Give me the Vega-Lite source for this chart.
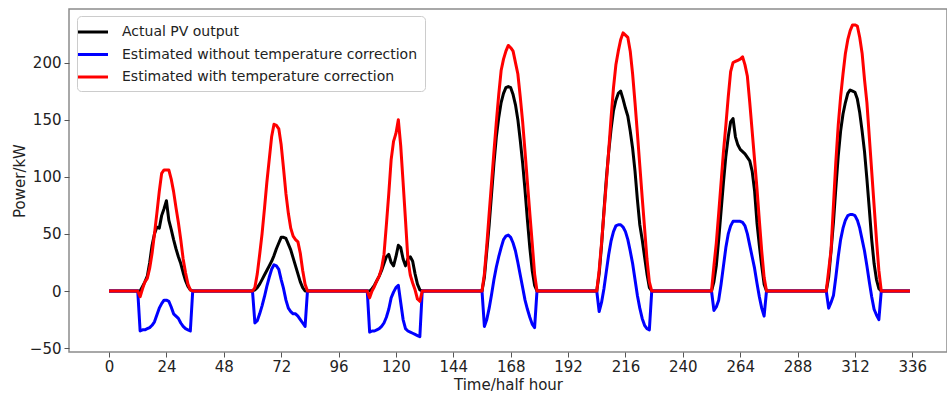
{
  "$schema": "https://vega.github.io/schema/vega-lite/v6.json",
  "width": 878,
  "height": 343,
  "autosize": {"type": "none"},
  "padding": {"left": 69, "top": 9, "right": 0, "bottom": 42},
  "background": "white",
  "config": {
    "view": {"stroke": "#8c8c8c", "strokeWidth": 1.5},
    "font": "DejaVu Sans",
    "axis": {
      "domain": false,
      "grid": false,
      "tickColor": "#555",
      "tickSize": 5,
      "tickWidth": 1,
      "labelFontSize": 15,
      "labelColor": "#222",
      "labelFont": "DejaVu Sans",
      "titleFont": "DejaVu Sans",
      "titleFontSize": 15,
      "titleFontWeight": "normal",
      "titleColor": "#222"
    }
  },
  "data": {
    "values": [
      {"t": 0, "a": 0, "b": 0, "r": 0},
      {"t": 12, "a": 0, "b": 0, "r": 0},
      {"t": 13, "a": 0, "b": -35, "r": -5},
      {"t": 14, "a": 4, "b": -34, "r": 2},
      {"t": 15, "a": 8, "b": -34, "r": 8},
      {"t": 16, "a": 13, "b": -33, "r": 11},
      {"t": 17, "a": 25, "b": -32, "r": 20},
      {"t": 18, "a": 40, "b": -30, "r": 33},
      {"t": 19, "a": 50, "b": -27, "r": 50},
      {"t": 20, "a": 56, "b": -21, "r": 68},
      {"t": 21, "a": 55, "b": -15, "r": 87},
      {"t": 22, "a": 66, "b": -11, "r": 103},
      {"t": 23, "a": 72, "b": -8, "r": 106},
      {"t": 24, "a": 79, "b": -8, "r": 106},
      {"t": 25, "a": 62, "b": -9, "r": 106},
      {"t": 26, "a": 54, "b": -14, "r": 98},
      {"t": 27, "a": 45, "b": -20, "r": 87},
      {"t": 28, "a": 37, "b": -22, "r": 73},
      {"t": 29, "a": 30, "b": -24, "r": 60},
      {"t": 30, "a": 24, "b": -28, "r": 45},
      {"t": 31, "a": 16, "b": -31, "r": 28},
      {"t": 32, "a": 9, "b": -33, "r": 16},
      {"t": 33, "a": 4, "b": -34, "r": 6},
      {"t": 34, "a": 1, "b": -35, "r": 1},
      {"t": 35, "a": 0, "b": 0, "r": 0},
      {"t": 60, "a": 0, "b": 0, "r": 0},
      {"t": 61, "a": 1, "b": -28, "r": 3},
      {"t": 62, "a": 3, "b": -26, "r": 15},
      {"t": 63, "a": 6, "b": -20, "r": 32},
      {"t": 64, "a": 10, "b": -13, "r": 50},
      {"t": 65, "a": 14, "b": -5, "r": 72},
      {"t": 66, "a": 18, "b": 4, "r": 95},
      {"t": 67, "a": 22, "b": 12, "r": 115},
      {"t": 68, "a": 26, "b": 19, "r": 135},
      {"t": 69, "a": 31, "b": 23, "r": 146},
      {"t": 70, "a": 37, "b": 22, "r": 145},
      {"t": 71, "a": 42, "b": 19, "r": 142},
      {"t": 72, "a": 47, "b": 10, "r": 128},
      {"t": 73, "a": 47, "b": 2, "r": 107},
      {"t": 74, "a": 46, "b": -8, "r": 85},
      {"t": 75, "a": 41, "b": -15, "r": 68},
      {"t": 76, "a": 36, "b": -18, "r": 55},
      {"t": 77, "a": 29, "b": -20, "r": 48},
      {"t": 78, "a": 22, "b": -20, "r": 45},
      {"t": 79, "a": 15, "b": -22, "r": 43},
      {"t": 80, "a": 8, "b": -25, "r": 33},
      {"t": 81, "a": 3, "b": -28, "r": 18},
      {"t": 82, "a": 0, "b": -31, "r": 6},
      {"t": 83, "a": 0, "b": 0, "r": 0},
      {"t": 108, "a": 0, "b": 0, "r": 0},
      {"t": 109, "a": 0, "b": -36, "r": -6},
      {"t": 110, "a": 2, "b": -35, "r": 0},
      {"t": 111, "a": 5, "b": -35, "r": 4},
      {"t": 112, "a": 9, "b": -34, "r": 9},
      {"t": 113, "a": 13, "b": -33, "r": 13},
      {"t": 114, "a": 18, "b": -31, "r": 20},
      {"t": 115, "a": 24, "b": -28, "r": 32},
      {"t": 116, "a": 30, "b": -23, "r": 58},
      {"t": 117, "a": 32, "b": -16, "r": 85},
      {"t": 118, "a": 25, "b": -6, "r": 115},
      {"t": 119, "a": 22, "b": -1, "r": 131},
      {"t": 120, "a": 30, "b": 3, "r": 138},
      {"t": 121, "a": 40, "b": 5, "r": 150},
      {"t": 122, "a": 38, "b": -10, "r": 127},
      {"t": 123, "a": 28, "b": -25, "r": 95},
      {"t": 124, "a": 22, "b": -33, "r": 62},
      {"t": 125, "a": 28, "b": -35, "r": 28},
      {"t": 126, "a": 30, "b": -36, "r": 14},
      {"t": 127, "a": 26, "b": -37, "r": 7},
      {"t": 128, "a": 15, "b": -38, "r": 1},
      {"t": 129, "a": 6, "b": -39, "r": -7},
      {"t": 130, "a": 1, "b": -40, "r": -9},
      {"t": 131, "a": 0, "b": 0, "r": 0},
      {"t": 156, "a": 0, "b": 0, "r": 0},
      {"t": 157, "a": 12, "b": -31, "r": 15},
      {"t": 158, "a": 35, "b": -25, "r": 40},
      {"t": 159, "a": 58, "b": -15, "r": 68},
      {"t": 160, "a": 85, "b": -3, "r": 95},
      {"t": 161, "a": 112, "b": 10, "r": 122},
      {"t": 162, "a": 135, "b": 21, "r": 148},
      {"t": 163, "a": 152, "b": 30, "r": 172},
      {"t": 164, "a": 165, "b": 38, "r": 193},
      {"t": 165, "a": 173, "b": 45, "r": 203},
      {"t": 166, "a": 178, "b": 48, "r": 210},
      {"t": 167, "a": 179, "b": 49, "r": 215},
      {"t": 168, "a": 178, "b": 47, "r": 213},
      {"t": 169, "a": 172, "b": 42, "r": 210},
      {"t": 170, "a": 163, "b": 35, "r": 200},
      {"t": 171, "a": 150, "b": 25, "r": 190},
      {"t": 172, "a": 132, "b": 14, "r": 170},
      {"t": 173, "a": 112, "b": 3, "r": 148},
      {"t": 174, "a": 88, "b": -8, "r": 122},
      {"t": 175, "a": 62, "b": -16, "r": 95},
      {"t": 176, "a": 38, "b": -23, "r": 68},
      {"t": 177, "a": 18, "b": -29, "r": 42},
      {"t": 178, "a": 5, "b": -32, "r": 15},
      {"t": 179, "a": 0, "b": 0, "r": 0},
      {"t": 204, "a": 0, "b": 0, "r": 0},
      {"t": 205, "a": 15, "b": -18, "r": 18},
      {"t": 206, "a": 40, "b": -10, "r": 42},
      {"t": 207, "a": 70, "b": 2, "r": 68},
      {"t": 208, "a": 98, "b": 17, "r": 95},
      {"t": 209, "a": 122, "b": 32, "r": 123},
      {"t": 210, "a": 142, "b": 44, "r": 152},
      {"t": 211, "a": 158, "b": 52, "r": 178},
      {"t": 212, "a": 167, "b": 57, "r": 198},
      {"t": 213, "a": 173, "b": 58, "r": 210},
      {"t": 214, "a": 175, "b": 58, "r": 220},
      {"t": 215, "a": 168, "b": 56, "r": 226},
      {"t": 216, "a": 160, "b": 52, "r": 224},
      {"t": 217, "a": 153, "b": 45, "r": 222},
      {"t": 218, "a": 140, "b": 35, "r": 210},
      {"t": 219, "a": 125, "b": 24, "r": 190},
      {"t": 220, "a": 105, "b": 10, "r": 165},
      {"t": 221, "a": 80, "b": -4, "r": 138},
      {"t": 222, "a": 58, "b": -15, "r": 110},
      {"t": 223, "a": 45, "b": -24, "r": 82},
      {"t": 224, "a": 30, "b": -30, "r": 55},
      {"t": 225, "a": 15, "b": -33, "r": 28},
      {"t": 226, "a": 3, "b": -34, "r": 8},
      {"t": 227, "a": 0, "b": 0, "r": 0},
      {"t": 252, "a": 0, "b": 0, "r": 0},
      {"t": 253, "a": 8, "b": -17, "r": 22},
      {"t": 254, "a": 22, "b": -14, "r": 42},
      {"t": 255, "a": 45, "b": -8, "r": 68},
      {"t": 256, "a": 70, "b": 6, "r": 95},
      {"t": 257, "a": 95, "b": 22, "r": 122},
      {"t": 258, "a": 118, "b": 38, "r": 145},
      {"t": 259, "a": 135, "b": 50, "r": 170},
      {"t": 260, "a": 148, "b": 57, "r": 192},
      {"t": 261, "a": 151, "b": 61, "r": 200},
      {"t": 262, "a": 135, "b": 61, "r": 201},
      {"t": 263, "a": 128, "b": 61, "r": 202},
      {"t": 264, "a": 124, "b": 61, "r": 203},
      {"t": 265, "a": 122, "b": 60, "r": 205},
      {"t": 266, "a": 120, "b": 57, "r": 198},
      {"t": 267, "a": 117, "b": 50, "r": 188},
      {"t": 268, "a": 114, "b": 40, "r": 165},
      {"t": 269, "a": 105, "b": 30, "r": 140},
      {"t": 270, "a": 88, "b": 20, "r": 115},
      {"t": 271, "a": 60, "b": 7, "r": 90},
      {"t": 272, "a": 40, "b": -5, "r": 62},
      {"t": 273, "a": 22, "b": -15, "r": 35},
      {"t": 274, "a": 6, "b": -22, "r": 12},
      {"t": 275, "a": 0, "b": 0, "r": 0},
      {"t": 300, "a": 0, "b": 0, "r": 0},
      {"t": 301, "a": 12, "b": -15, "r": 18},
      {"t": 302, "a": 35, "b": -10, "r": 36},
      {"t": 303, "a": 60, "b": -4, "r": 75},
      {"t": 304, "a": 90, "b": 12, "r": 113},
      {"t": 305, "a": 118, "b": 30, "r": 145},
      {"t": 306, "a": 140, "b": 45, "r": 170},
      {"t": 307, "a": 155, "b": 55, "r": 190},
      {"t": 308, "a": 165, "b": 62, "r": 208},
      {"t": 309, "a": 173, "b": 66, "r": 220},
      {"t": 310, "a": 176, "b": 67, "r": 228},
      {"t": 311, "a": 175, "b": 67, "r": 233},
      {"t": 312, "a": 174, "b": 66, "r": 233},
      {"t": 313, "a": 168, "b": 62, "r": 232},
      {"t": 314, "a": 156, "b": 55, "r": 222},
      {"t": 315, "a": 140, "b": 45, "r": 208},
      {"t": 316, "a": 122, "b": 35, "r": 185},
      {"t": 317, "a": 98, "b": 22, "r": 165},
      {"t": 318, "a": 72, "b": 8, "r": 135},
      {"t": 319, "a": 45, "b": -5, "r": 105},
      {"t": 320, "a": 24, "b": -16, "r": 75},
      {"t": 321, "a": 10, "b": -21, "r": 45},
      {"t": 322, "a": 2, "b": -25, "r": 18},
      {"t": 323, "a": 0, "b": 0, "r": 0},
      {"t": 335, "a": 0, "b": 0, "r": 0}
    ]
  },
  "transform": [
    {"fold": ["a", "b", "r"], "as": ["series", "power"]}
  ],
  "mark": {"type": "line", "strokeWidth": 3, "strokeJoin": "round"},
  "encoding": {
    "x": {
      "field": "t",
      "type": "quantitative",
      "scale": {"domain": [-16.75, 350.5], "nice": false, "zero": false},
      "axis": {"values": [0, 24, 48, 72, 96, 120, 144, 168, 192, 216, 240, 264, 288, 312, 336], "title": "Time/half hour", "titlePadding": 3, "labelPadding": 2}
    },
    "y": {
      "field": "power",
      "type": "quantitative",
      "scale": {"domain": [-53.4, 246.9], "nice": false, "zero": false},
      "axis": {"values": [-50, 0, 50, 100, 150, 200], "title": "Power/kW", "titlePadding": 2, "labelPadding": 3}
    },
    "color": {
      "field": "series",
      "type": "nominal",
      "scale": {"domain": ["a", "b", "r"], "range": ["#000000", "#0000ff", "#ff0000"]},
      "legend": {
        "title": null,
        "orient": "none",
        "legendX": 8,
        "legendY": 7,
        "labelExpr": "datum.value == 'a' ? 'Actual PV output' : datum.value == 'b' ? 'Estimated without temperature correction' : 'Estimated with temperature correction'",
        "labelLimit": 500,
        "symbolType": "M-2,0L2,0",
        "symbolSize": 225,
        "symbolStrokeWidth": 3,
        "labelFontSize": 14,
        "labelFont": "DejaVu Sans",
        "labelColor": "#222",
        "labelOffset": 20,
        "rowPadding": 6.5,
        "padding": 7,
        "strokeColor": "#cccccc",
        "cornerRadius": 4,
        "fillColor": "white"
      }
    }
  }
}
